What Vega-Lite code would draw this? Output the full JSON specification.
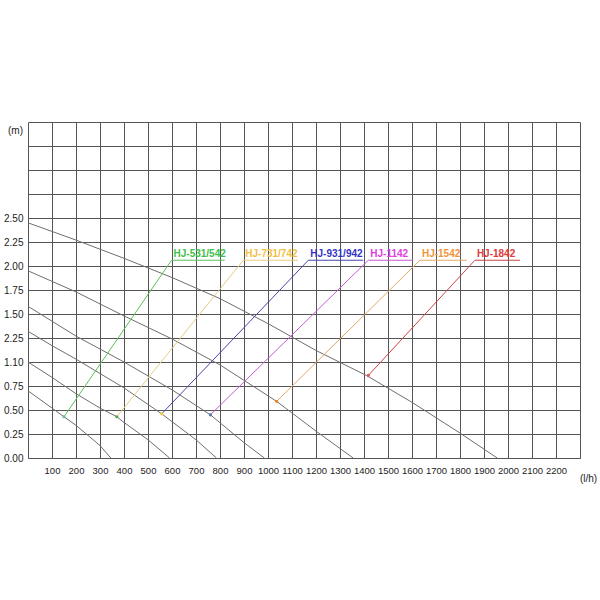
{
  "$schema": "https://vega.github.io/schema/vega-lite/v6.json",
  "width": 552,
  "height": 336,
  "autosize": "none",
  "padding": {"left": 28, "top": 122, "right": 20, "bottom": 142},
  "background": "white",
  "config": {
    "view": {"stroke": "#555555", "strokeWidth": 1},
    "font": "Liberation Sans",
    "axis": {"labelOverlap": false, "labelBound": false}
  },
  "datasets": {
    "curves": [
      {"model": "HJ-531/542", "q": 0, "h": 0.70},
      {"model": "HJ-531/542", "q": 100, "h": 0.52},
      {"model": "HJ-531/542", "q": 150, "h": 0.43},
      {"model": "HJ-531/542", "q": 200, "h": 0.34},
      {"model": "HJ-531/542", "q": 300, "h": 0.13},
      {"model": "HJ-531/542", "q": 345, "h": 0},
      {"model": "HJ-731/742", "q": 0, "h": 1.0},
      {"model": "HJ-731/742", "q": 100, "h": 0.84},
      {"model": "HJ-731/742", "q": 200, "h": 0.67},
      {"model": "HJ-731/742", "q": 300, "h": 0.52},
      {"model": "HJ-731/742", "q": 370, "h": 0.43},
      {"model": "HJ-731/742", "q": 400, "h": 0.37},
      {"model": "HJ-731/742", "q": 500, "h": 0.19},
      {"model": "HJ-731/742", "q": 590, "h": 0},
      {"model": "HJ-931/942", "q": 0, "h": 1.32},
      {"model": "HJ-931/942", "q": 100, "h": 1.17},
      {"model": "HJ-931/942", "q": 200, "h": 1.03},
      {"model": "HJ-931/942", "q": 300, "h": 0.88},
      {"model": "HJ-931/942", "q": 400, "h": 0.73},
      {"model": "HJ-931/942", "q": 557, "h": 0.46},
      {"model": "HJ-931/942", "q": 700, "h": 0.19},
      {"model": "HJ-931/942", "q": 785, "h": 0},
      {"model": "HJ-1142", "q": 0, "h": 1.58},
      {"model": "HJ-1142", "q": 200, "h": 1.27},
      {"model": "HJ-1142", "q": 400, "h": 1.0},
      {"model": "HJ-1142", "q": 600, "h": 0.71},
      {"model": "HJ-1142", "q": 760, "h": 0.45},
      {"model": "HJ-1142", "q": 900, "h": 0.16},
      {"model": "HJ-1142", "q": 985, "h": 0},
      {"model": "HJ-1542", "q": 0, "h": 1.95},
      {"model": "HJ-1542", "q": 200, "h": 1.73},
      {"model": "HJ-1542", "q": 400, "h": 1.48},
      {"model": "HJ-1542", "q": 600, "h": 1.24},
      {"model": "HJ-1542", "q": 800, "h": 0.97},
      {"model": "HJ-1542", "q": 1036, "h": 0.59},
      {"model": "HJ-1542", "q": 1200, "h": 0.28},
      {"model": "HJ-1542", "q": 1355, "h": 0},
      {"model": "HJ-1842", "q": 0, "h": 2.45},
      {"model": "HJ-1842", "q": 200, "h": 2.27},
      {"model": "HJ-1842", "q": 400, "h": 2.08},
      {"model": "HJ-1842", "q": 600, "h": 1.88},
      {"model": "HJ-1842", "q": 800, "h": 1.66},
      {"model": "HJ-1842", "q": 1000, "h": 1.40},
      {"model": "HJ-1842", "q": 1200, "h": 1.12},
      {"model": "HJ-1842", "q": 1410, "h": 0.86},
      {"model": "HJ-1842", "q": 1600, "h": 0.58},
      {"model": "HJ-1842", "q": 1800, "h": 0.26},
      {"model": "HJ-1842", "q": 1955, "h": 0}
    ],
    "pointers": [
      {"model": "HJ-531/542", "step": 0, "q": 150, "h": 0.43},
      {"model": "HJ-531/542", "step": 1, "q": 598, "h": 2.06},
      {"model": "HJ-531/542", "step": 2, "q": 820, "h": 2.06},
      {"model": "HJ-731/742", "step": 0, "q": 370, "h": 0.43},
      {"model": "HJ-731/742", "step": 1, "q": 897, "h": 2.06},
      {"model": "HJ-731/742", "step": 2, "q": 1125, "h": 2.06},
      {"model": "HJ-931/942", "step": 0, "q": 557, "h": 0.46},
      {"model": "HJ-931/942", "step": 1, "q": 1168, "h": 2.06},
      {"model": "HJ-931/942", "step": 2, "q": 1397, "h": 2.06},
      {"model": "HJ-1142", "step": 0, "q": 760, "h": 0.45},
      {"model": "HJ-1142", "step": 1, "q": 1418, "h": 2.06},
      {"model": "HJ-1142", "step": 2, "q": 1605, "h": 2.06},
      {"model": "HJ-1542", "step": 0, "q": 1036, "h": 0.59},
      {"model": "HJ-1542", "step": 1, "q": 1633, "h": 2.06},
      {"model": "HJ-1542", "step": 2, "q": 1828, "h": 2.06},
      {"model": "HJ-1842", "step": 0, "q": 1418, "h": 0.86},
      {"model": "HJ-1842", "step": 1, "q": 1862, "h": 2.06},
      {"model": "HJ-1842", "step": 2, "q": 2050, "h": 2.06}
    ]
  },
  "encoding": {
    "x": {
      "field": "q", "type": "quantitative",
      "scale": {"domain": [0, 2300], "nice": false, "zero": false},
      "axis": {
        "values": [100, 200, 300, 400, 500, 600, 700, 800, 900, 1000, 1100, 1200, 1300, 1400, 1500, 1600, 1700, 1800, 1900, 2000, 2100, 2200],
        "format": "d", "labelOverlap": false, "labelBound": false,
        "grid": true, "gridColor": "#555555", "gridWidth": 1, "gridOpacity": 1,
        "ticks": false, "domain": false,
        "labelFontSize": 9.5, "labelColor": "#222222", "labelPadding": 7,
        "title": "(l/h)", "titleFontSize": 10, "titleFontWeight": "normal", "titleColor": "#222222",
        "titleX": 560, "titleY": 20, "titleAlign": "center", "titleBaseline": "middle"
      }
    },
    "y": {
      "field": "h", "type": "quantitative",
      "scale": {"domain": [0, 3.5], "nice": false},
      "axis": {
        "values": [0, 0.25, 0.5, 0.75, 1, 1.25, 1.5, 1.75, 2, 2.25, 2.5, 2.75, 3, 3.25],
        "labelExpr": "datum.value > 2.5 ? '' : datum.value == 1.25 ? '2.25' : datum.value == 1 ? '1.10' : format(datum.value, '.2f')",
        "labelOverlap": false, "labelBound": false,
        "grid": true, "gridColor": "#555555", "gridWidth": 1, "gridOpacity": 1,
        "ticks": false, "domain": false,
        "labelFontSize": 10, "labelColor": "#222222", "labelPadding": 5,
        "title": "(m)", "titleFontSize": 10, "titleFontWeight": "normal", "titleColor": "#222222",
        "titleAngle": 0, "titleX": -13, "titleY": 8, "titleAlign": "center", "titleBaseline": "middle"
      }
    }
  },
  "layer": [
    {
      "data": {"name": "curves"},
      "mark": {"type": "line", "interpolate": "linear", "color": "#6e6e6e", "strokeWidth": 1},
      "encoding": {
        "detail": {"field": "model"}
      }
    },
    {
      "data": {"name": "pointers"},
      "mark": {"type": "line", "strokeWidth": 1},
      "encoding": {
        "order": {"field": "step"},
        "color": {
          "field": "model", "type": "nominal", "legend": null,
          "scale": {
            "domain": ["HJ-531/542", "HJ-731/742", "HJ-931/942", "HJ-1142", "HJ-1542", "HJ-1842"],
            "range": ["#5cbf5c", "#e6cc80", "#4646aa", "#c45ad2", "#e2aa66", "#c84444"]
          }
        }
      }
    },
    {
      "data": {"name": "pointers"},
      "transform": [{"filter": "datum.step == 0"}],
      "mark": {"type": "point", "filled": true, "size": 10, "opacity": 1},
      "encoding": {
        "color": {"field": "model", "type": "nominal", "legend": null}
      }
    },
    {
      "data": {"name": "pointers"},
      "transform": [{"filter": "datum.step == 1"}],
      "mark": {"type": "text", "align": "left", "baseline": "alphabetic", "dx": 2, "dy": -3, "fontSize": 10, "fontWeight": "bold"},
      "encoding": {
        "text": {"field": "model"},
        "color": {
          "field": "model", "type": "nominal", "legend": null,
          "scale": {
            "domain": ["HJ-531/542", "HJ-731/742", "HJ-931/942", "HJ-1142", "HJ-1542", "HJ-1842"],
            "range": ["#3fc04a", "#f0c040", "#3434c8", "#e040e0", "#f0943a", "#e03a3a"]
          }
        }
      }
    }
  ],
  "resolve": {"scale": {"color": "independent"}}
}
